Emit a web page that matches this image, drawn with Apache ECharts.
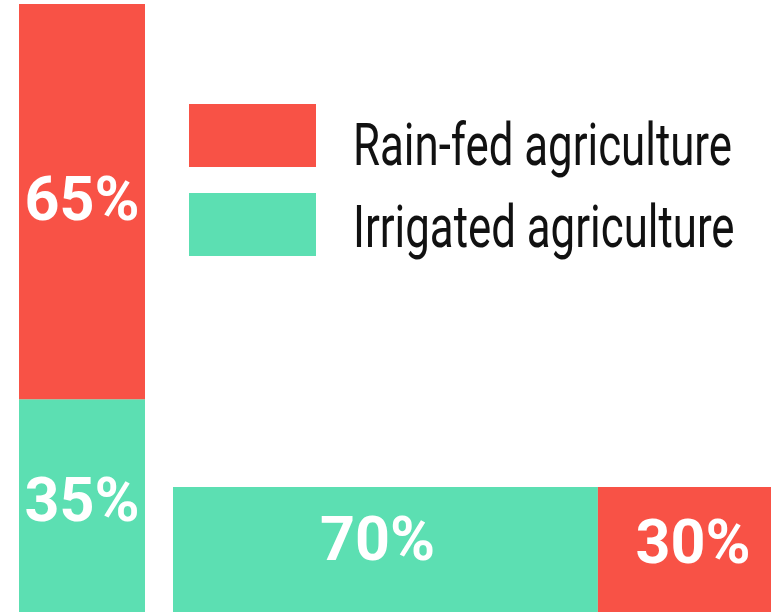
<!DOCTYPE html>
<html>
<head>
<meta charset="utf-8">
<script src="https://cdn.jsdelivr.net/npm/echarts@6/dist/echarts.min.js"></script>
<style>
html,body{margin:0;padding:0;background:#fff;}
#chart{width:771px;height:613px;}
</style>
</head>
<body>
<div id="chart"></div>
<script>
// Data
const seriesNames = ['Rain-fed agriculture', 'Irrigated agriculture'];
const verticalCategory = ['Left'];
const horizontalCategory = ['Bottom'];
const rainFedVertical = [65];
const irrigatedVertical = [35];
const irrigatedHorizontal = [70];
const rainFedHorizontal = [30];

const RED = '#F85246';
const TEAL = '#5CDFB2';
const FONT = 'Roboto, "DejaVu Sans Condensed", sans-serif';

const labelStyle = {
  show: true,
  position: 'inside',
  formatter: '{c}%',
  color: '#fff',
  fontFamily: FONT,
  fontWeight: 'bold',
  fontSize: 61
};

const chart = echarts.init(document.getElementById('chart'), null, {renderer: 'canvas'});

// Legend text drawn condensed (narrow typeface look) next to the legend swatches
const legendTextTops = [149.5, 231.5];
const legendGraphic = seriesNames.map(function (name, i) {
  return {
    type: 'text',
    x: 353,
    y: legendTextTops[i],
    scaleX: 0.73,
    silent: true,
    style: {
      text: name,
      fill: '#111',
      font: '60px Roboto, sans-serif',
      textAlign: 'left',
      textVerticalAlign: 'middle'
    }
  };
});

chart.setOption({
  animation: false,
  backgroundColor: '#fff',
  legend: {
    data: seriesNames,
    orient: 'vertical',
    left: 189,
    top: 104,
    padding: 0,
    icon: 'rect',
    itemWidth: 127,
    itemHeight: 63,
    itemGap: 26,
    selectedMode: false,
    formatter: function () { return ''; },
    textStyle: {fontSize: 1}
  },
  graphic: legendGraphic,
  grid: [
    {left: 19, top: 4, width: 126, height: 608, outerBoundsMode: 'none'},
    {left: 173, top: 487, width: 607, height: 125, outerBoundsMode: 'none'}
  ],
  xAxis: [
    {type: 'category', gridIndex: 0, data: verticalCategory, show: false},
    {type: 'value', gridIndex: 1, min: 0, max: 100, show: false}
  ],
  yAxis: [
    {type: 'value', gridIndex: 0, min: 0, max: 100, show: false},
    {type: 'category', gridIndex: 1, data: horizontalCategory, show: false}
  ],
  series: [
    {
      name: seriesNames[1], type: 'bar', xAxisIndex: 0, yAxisIndex: 0, stack: 'v',
      barWidth: '100%', data: irrigatedVertical, itemStyle: {color: TEAL}, label: labelStyle
    },
    {
      name: seriesNames[0], type: 'bar', xAxisIndex: 0, yAxisIndex: 0, stack: 'v',
      barWidth: '100%', data: rainFedVertical, itemStyle: {color: RED},
      label: Object.assign({}, labelStyle, {offset: [0, 3]})
    },
    {
      name: seriesNames[1], type: 'bar', xAxisIndex: 1, yAxisIndex: 1, stack: 'h',
      barWidth: '100%', data: irrigatedHorizontal, itemStyle: {color: TEAL},
      label: Object.assign({}, labelStyle, {offset: [-8, -5]})
    },
    {
      name: seriesNames[0], type: 'bar', xAxisIndex: 1, yAxisIndex: 1, stack: 'h',
      barWidth: '100%', data: rainFedHorizontal, itemStyle: {color: RED},
      label: Object.assign({}, labelStyle, {offset: [4, -2]})
    }
  ]
});
</script>
</body>
</html>
